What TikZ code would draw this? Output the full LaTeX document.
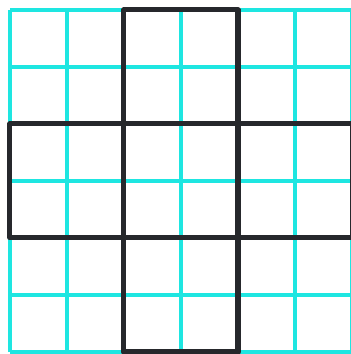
\documentclass[tikz,border=0pt]{standalone}
\usepackage{tikz}
\definecolor{gridcyan}{RGB}{30,230,225}
\definecolor{crossblack}{RGB}{38,40,44}
\tikzset{crossline/.style={crossblack,line width=2.5pt,line join=round}}
\begin{document}
\begin{tikzpicture}
\useasboundingbox(-0.175,-0.035)rectangle(5.98,6.175);
\draw[gridcyan,line width=1.7pt](0,0)grid(6,6);
\draw[crossline](2,0)--(4,0)--(4,2)--(6,2)--(6,4)--(4,4)--(4,6)--(2,6)--(2,4)--(0,4)--(0,2)--(2,2)--cycle;
\draw[crossline](2,0)--(2,6)(4,0)--(4,6)(0,2)--(6,2)(0,4)--(6,4);
\end{tikzpicture}
\end{document}
